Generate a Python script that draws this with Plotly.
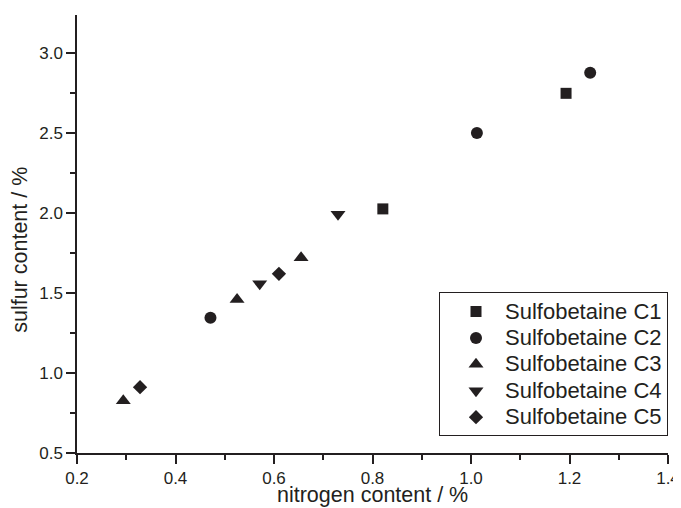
import plotly.graph_objects as go

# Data
c1_x = [0.821, 1.193]
c1_y = [2.027, 2.750]
c2_x = [0.471, 1.012, 1.242]
c2_y = [1.346, 2.502, 2.879]
c3_x = [0.294, 0.525, 0.655]
c3_y = [0.827, 1.460, 1.722]
c4_x = [0.571, 0.730]
c4_y = [1.558, 1.993]
c5_x = [0.328, 0.610]
c5_y = [0.912, 1.621]

series_names = ["Sulfobetaine C1", "Sulfobetaine C2", "Sulfobetaine C3",
                "Sulfobetaine C4", "Sulfobetaine C5"]
series_x = [c1_x, c2_x, c3_x, c4_x, c5_x]
series_y = [c1_y, c2_y, c3_y, c4_y, c5_y]
symbols = ["square", "circle", "triangle-up", "triangle-down", "diamond"]
sizes = [11, 12, 13, 13, 11]

x_title = "nitrogen content / %"
y_title = "sulfur content / %"

INK = "#231f20"
FONT = "Liberation Sans, Arial, Helvetica, sans-serif"

fig = go.Figure()
for name, xs, ys, sym, sz in zip(series_names, series_x, series_y, symbols, sizes):
    fig.add_trace(go.Scatter(
        x=xs, y=ys, mode="markers",
        name='<span style="font-size:22px">' + name + '</span>',
        marker=dict(symbol=sym, size=sz, color=INK, line=dict(width=0)),
    ))

axis_common = dict(
    showline=True, linecolor=INK, linewidth=1.5,
    ticks="outside", ticklen=9, tickwidth=1.5, tickcolor=INK,
    showgrid=False, zeroline=False, mirror=False,
    tickfont=dict(family=FONT, size=17, color=INK),
    tickformat=".1f", ticklabeloverflow="allow",
)

fig.update_xaxes(
    range=[0.2, 1.4], dtick=0.2, tick0=0.2,
    minor=dict(dtick=0.1, ticks="outside", ticklen=5, tickwidth=1.5, tickcolor=INK),
    **axis_common,
)
fig.update_yaxes(
    range=[0.5, 3.24], dtick=0.5, tick0=0.5,
    minor=dict(dtick=0.25, ticks="outside", ticklen=5, tickwidth=1.5, tickcolor=INK),
    **axis_common,
)

# axis titles placed as in the reference
fig.add_annotation(
    text=x_title, showarrow=False,
    xref="paper", yref="paper", x=0.5, y=-0.064,
    xanchor="center", yanchor="top",
    font=dict(family=FONT, size=21.5, color=INK),
)
fig.add_annotation(
    text=y_title, textangle=-90, showarrow=False,
    xref="paper", yref="paper", x=-0.0964, y=0.464,
    xanchor="center", yanchor="middle",
    font=dict(family=FONT, size=21.5, color=INK),
)

# the page body adds an 8px offset, so the figure is 8px smaller than the window
fig.update_layout(
    width=673, height=500,
    margin=dict(l=69, r=13, t=7, b=55, autoexpand=False),
    plot_bgcolor="white", paper_bgcolor="white",
    font=dict(family=FONT, color=INK),
    showlegend=True,
    legend=dict(
        x=1.0, xanchor="right", y=0.038, yanchor="bottom",
        bordercolor=INK, borderwidth=1, bgcolor="white",
        font=dict(family=FONT, size=18, color=INK),
        indentation=7, itemwidth=48,
    ),
)

fig.write_html("out.html")
